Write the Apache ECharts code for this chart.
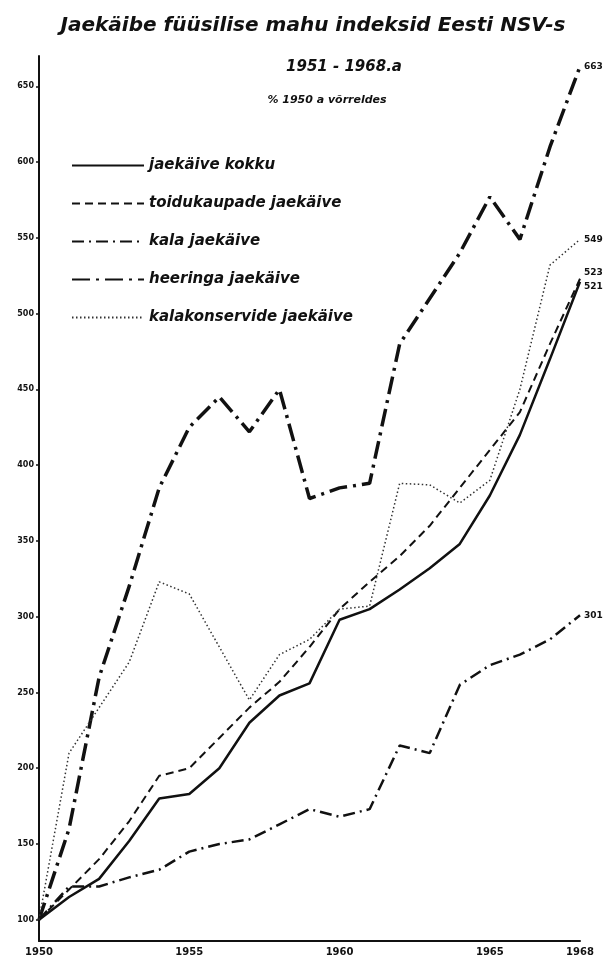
<!DOCTYPE html>
<html>
<head>
<meta charset="utf-8">
<script src="https://cdn.jsdelivr.net/npm/echarts@6/dist/echarts.min.js"></script>
<style>html,body{margin:0;padding:0;background:#fff;}#c{width:611px;height:960px;}</style>
</head>
<body>
<div id="c"></div>
<script>
var years = [1950,1951,1952,1953,1954,1955,1956,1957,1958,1959,1960,1961,1962,1963,1964,1965,1966,1967,1968];
var kokku = [100,115,127,152,180,183,200,230,248,256,298,305,318,332,348,380,420,470,521];
var toidukaubad = [100,120,140,165,195,200,220,240,257,280,305,323,340,360,385,410,435,480,523];
var kala = [100,122,122,128,133,145,150,153,163,173,168,173,215,210,255,268,275,285,301];
var heeringas = [100,160,260,320,385,425,445,422,450,378,385,388,480,510,540,577,549,610,663];
var kalakonservid = [100,210,240,270,323,315,280,245,275,285,305,307,388,387,375,390,450,532,549];
var yTicks = [100,150,200,250,300,350,400,450,500,550,600,650];
var xTicks = [1950,1955,1960,1965,1968];
var names = ['jaekäive kokku','toidukaupade jaekäive','kala jaekäive','heeringa jaekäive','kalakonservide jaekäive'];

function pairs(arr){ return years.map(function(y,i){ return [y, arr[i]]; }); }
var FONT = 'DejaVu Sans';
function ser(name, arr, style, labelOffset){
  return {
    name: name, type: 'line', data: pairs(arr), symbol: 'none',
    lineStyle: style,
    itemStyle: {color: style.color},
    endLabel: {show: true, formatter: function(p){ return p.value[1]; }, fontSize: 9, fontWeight: 'bold',
      fontFamily: FONT, color: '#111', offset: labelOffset || [0,0], distance: 4}
  };
}
var chart = echarts.init(document.getElementById('c'));
chart.setOption({
  animation: false,
  backgroundColor: '#fff',
  title: [
    {text: 'Jaekäibe füüsilise mahu indeksid Eesti NSV-s', left: 308, top: 11, textAlign: 'center',
     textStyle: {fontFamily: FONT, fontStyle: 'italic', fontWeight: 'bold', fontSize: 20, color: '#111'}},
    {text: '1951 - 1968.a', left: 339, top: 55, textAlign: 'center',
     textStyle: {fontFamily: FONT, fontStyle: 'italic', fontWeight: 'bold', fontSize: 15, color: '#111'}},
    {text: '% 1950 a võrreldes', left: 322, top: 90, textAlign: 'center',
     textStyle: {fontFamily: FONT, fontStyle: 'italic', fontWeight: 'bold', fontSize: 11, color: '#111'}}
  ],
  legend: {
    show: true,
    orient: 'vertical', left: 66, top: 153, itemWidth: 72, itemHeight: 14, itemGap: 23,
    itemStyle: {opacity: 0, color: 'rgba(0,0,0,0)', borderWidth: 0},
    textStyle: {fontFamily: FONT, fontStyle: 'italic', fontWeight: 'bold', fontSize: 15, color: '#111'},
    data: names
  },
  grid: {left: 39, right: 31, top: 56, bottom: 19},
  xAxis: {
    type: 'value', min: 1950, max: 1968,
    axisLine: {lineStyle: {color: '#111', width: 2}},
    axisTick: {show: false},
    splitLine: {show: false},
    axisLabel: {customValues: xTicks, fontSize: 10, fontWeight: 'bold', fontFamily: FONT, color: '#111', margin: 6,
      formatter: function(v){ return String(v); }}
  },
  yAxis: {
    type: 'value', min: 86, max: 670,
    axisLine: {show: true, lineStyle: {color: '#111', width: 2}},
    axisTick: {show: true, customValues: yTicks, length: 3, lineStyle: {color: '#111', width: 1.5}},
    splitLine: {show: false},
    axisLabel: {customValues: yTicks, fontSize: 8, fontWeight: 'bold', fontFamily: FONT, color: '#111', margin: 5}
  },
  series: [
    ser(names[0], kokku, {color: '#111', width: 2.5, type: 'solid'}, [0,5]),
    ser(names[1], toidukaubad, {color: '#111', width: 2, type: [8,5]}, [0,-6]),
    ser(names[2], kala, {color: '#111', width: 2.5, type: [12,5,2,5]}),
    ser(names[3], heeringas, {color: '#111', width: 3.5, type: [18,6,3,6]}),
    ser(names[4], kalakonservid, {color: '#333', width: 1.5, type: [1.5,2.5]})
  ]
});
</script>
</body>
</html>
